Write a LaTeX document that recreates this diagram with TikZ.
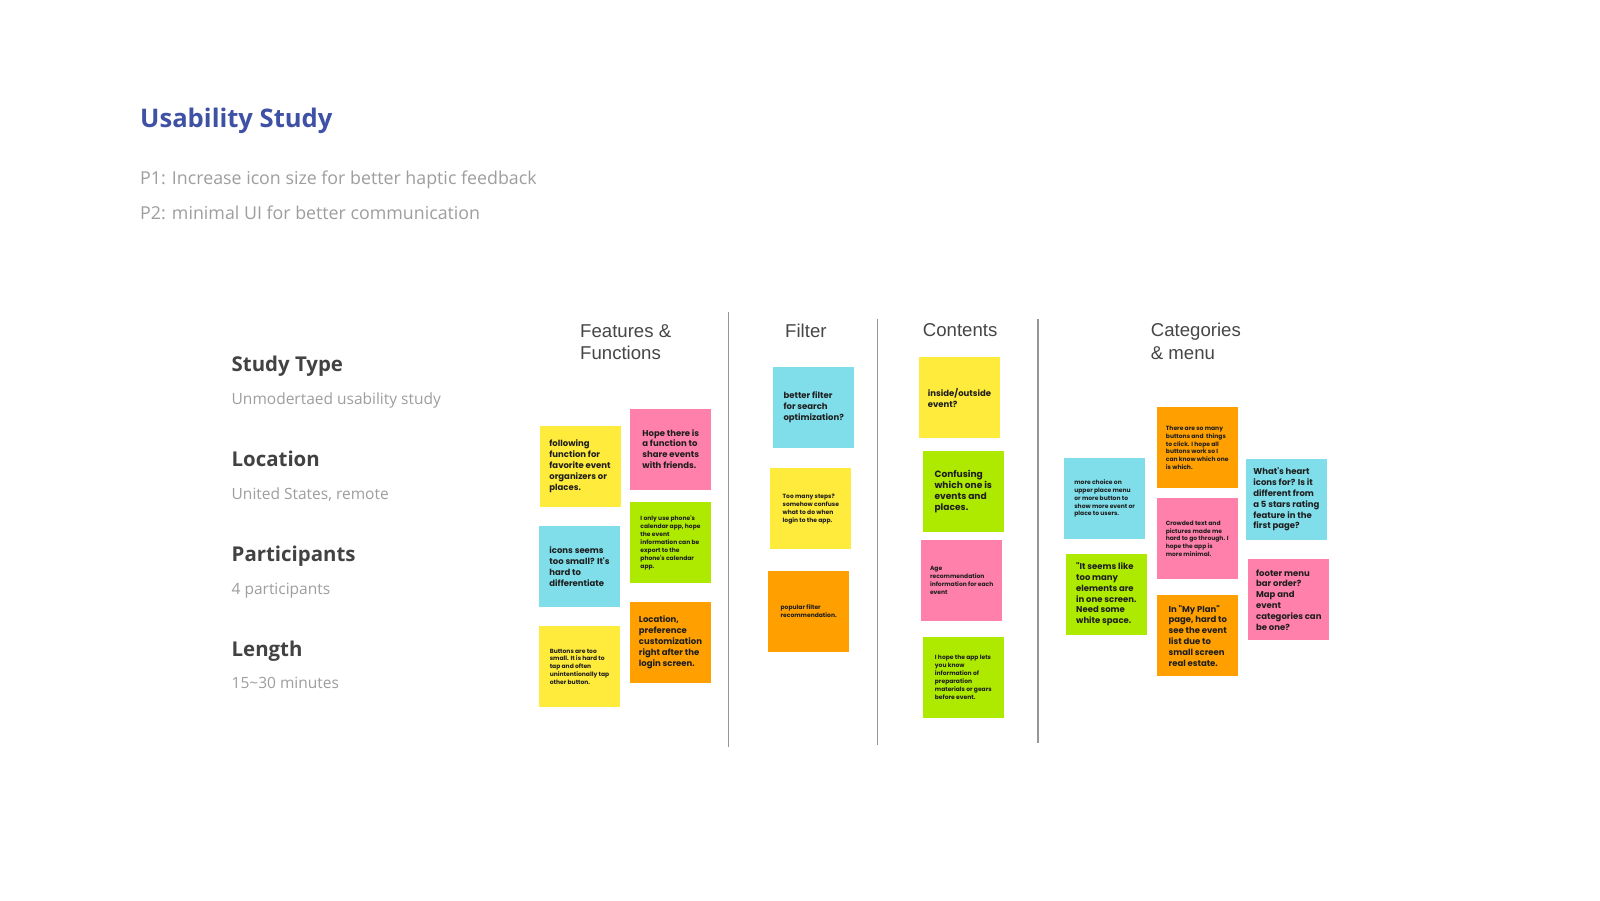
\documentclass[tikz,border=0pt]{standalone}
\usepackage{fontspec}
\setmainfont{Liberation Sans}
\newfontfamily\robofont{Open Sans}
\newfontfamily\notefont{Poppins}
\usetikzlibrary{positioning}

\definecolor{titleblue}{RGB}{63,81,165}
\definecolor{headgray}{RGB}{66,66,66}
\definecolor{subgray}{RGB}{158,158,158}
\definecolor{colgray}{RGB}{70,70,70}
\definecolor{divgray}{RGB}{150,150,150}
\definecolor{notetext}{RGB}{30,30,30}
\definecolor{noteY}{RGB}{255,235,59}
\definecolor{noteP}{RGB}{255,128,171}
\definecolor{noteC}{RGB}{128,222,234}
\definecolor{noteG}{RGB}{174,234,0}
\definecolor{noteO}{RGB}{255,160,0}

\begin{document}
\begin{tikzpicture}[
    x=1pt, y=-1pt,
    txt/.style={anchor=base west, inner sep=0pt},
    infohead/.style={txt, font=\robofont\bfseries\fontsize{20.4}{24}\selectfont, text=headgray},
    infosub/.style={txt, font=\robofont\fontsize{15.5}{19}\selectfont, text=subgray},
    colhead/.style={txt, font=\fontsize{18.6}{22}\selectfont, text=colgray},
    divider/.style={draw=divgray, line width=1.3pt},
    note/.style={rectangle, minimum width=81pt, minimum height=81pt, inner sep=0pt,
      align=left, text=notetext},
    bignote/.style={note, font=\notefont\bfseries\fontsize{8.5}{10.8}\selectfont},
    hugenote/.style={note, font=\notefont\bfseries\fontsize{9.1}{10.9}\selectfont},
    smallnote/.style={note, font=\notefont\bfseries\fontsize{6}{7.9}\selectfont},
  ]

  \useasboundingbox[fill=white] (0,0) rectangle (1600,900);

  % title and goals
  \node[txt, font=\robofont\bfseries\fontsize{25.6}{30}\selectfont, text=titleblue] (title) at (140,127.3) {Usability Study};
  \node[txt, font=\robofont\fontsize{17.8}{20}\selectfont, text=subgray] (p1) at (140,184.3) {P1: Increase icon size for better haptic feedback};
  \node[txt, font=\robofont\fontsize{17.8}{20}\selectfont, text=subgray] (p2) at (140,219.3) {P2: minimal UI for better communication};

  % study info
  \node[infohead] (typeh)   at (231.5,371.7) {Study Type};
  \node[infosub]  (typet)   at (231.5,404.3) {Unmodertaed usability study};
  \node[infohead] (loch)    at (231.5,466.7) {Location};
  \node[infosub]  (loct)    at (231.5,499)   {United States, remote};
  \node[infohead] (parth)   at (231.5,561.7) {Participants};
  \node[infosub]  (partt)   at (231.5,594)   {4 participants};
  \node[infohead] (lenh)    at (231.5,656.7) {Length};
  \node[infosub]  (lent)    at (231.5,688.3) {15\textasciitilde30 minutes};

  % column headers
  \node[colhead] (feat1) at (580,337.3)   {Features \&};
  \node[colhead] (feat2) at (580,359.3)   {Functions};
  \node[colhead] (filt)  at (785,337.3)   {Filter};
  \node[colhead] (cont)  at (922.7,336.7) {Contents};
  \node[colhead] (cat1)  at (1150.7,336.7) {Categories};
  \node[colhead] (cat2)  at (1150.7,359.3) {\& menu};

  % dividers
  \coordinate (d1a) at (728.6,312);  \coordinate (d1b) at (728.6,747);
  \coordinate (d2a) at (877.8,318.5); \coordinate (d2b) at (877.8,745);
  \coordinate (d3a) at (1038,319.4); \coordinate (d3b) at (1038,743);
  \draw[divider] (d1a) -- (d1b);
  \draw[divider] (d2a) -- (d2b);
  \draw[divider] (d3a) -- (d3b);

  % features & functions
  \node[bignote, fill=noteY] (f1) at (580,466.3) {following\\function for\\favorite event\\organizers or\\places.};
  \node[bignote, fill=noteP] (f2) at (670.8,449) {Hope there is\\a function to\\share events\\with friends.};
  \node[bignote, fill=noteC] (f3) at (579.5,566.8) {icons seems\\too small? It's\\hard to\\differentiate};
  \node[smallnote, fill=noteG] (f4) at (670.5,542.8) {I only use phone's\\calendar app, hope\\the event\\information can be\\export to the\\phone's calendar\\app.};
  \node[bignote, fill=noteO] (f5) at (670.5,642.2) {Location,\\preference\\customization\\right after the\\login screen.};
  \node[smallnote, fill=noteY] (f6) at (579.5,666.8) {Buttons are too\\small. It is hard to\\tap and often\\unintentionally tap\\other button.};

  % filter
  \node[bignote, fill=noteC] (g1) at (813.7,407.2) {better filter\\for search\\optimization?};
  \node[smallnote, fill=noteY] (g2) at (810.8,508.8) {Too many steps?\\somehow confuse\\what to do when\\login to the app.};
  \node[smallnote, fill=noteO] (g3) at (808.7,611.3) {popular filter\\recommendation.};

  % contents
  \node[bignote, fill=noteY] (c1) at (959.5,397.8) {inside/outside\\event?};
  \node[hugenote, fill=noteG] (c2) at (963.3,491.3) {Confusing\\which one is\\events and\\places.};
  \node[smallnote, fill=noteP] (c3) at (961.7,580.3) {Age\\recommendation\\information for each\\event};
  \node[smallnote, fill=noteG] (c4) at (963.3,677.2) {I hope the app lets\\you know\\information of\\preparation\\materials or gears\\before event.};

  % categories & menu
  \node[smallnote, fill=noteO] (m1) at (1197.2,447.8) {There are so many\\buttons and\ \ things\\to click. I hope all\\buttons work so I\\can know which one\\is which.};
  \node[smallnote, fill=noteC] (m2) at (1104.7,498.5) {more choice on\\upper place menu\\or more button to\\show more event or\\place to users.};
  \node[bignote, fill=noteC] (m3) at (1286.3,499.7) {What's heart\\icons for? Is it\\different from\\a 5 stars rating\\feature in the\\first page?};
  \node[smallnote, fill=noteP] (m4) at (1197.2,538.7) {Crowded text and\\pictures made me\\hard to go through. I\\hope the app is\\more minimal.};
  \node[bignote, fill=noteG] (m5) at (1106.3,594.5) {"It seems like\\too many\\elements are\\in one screen.\\Need some\\white space.};
  \node[bignote, fill=noteP] (m6) at (1288.8,599.7) {footer menu\\bar order?\\Map and\\event\\categories can\\be one?};
  \node[bignote, fill=noteO] (m7) at (1197.8,635.8) {In "My Plan"\\page, hard to\\see the event\\list due to\\small screen\\real estate.};

\end{tikzpicture}
\end{document}
